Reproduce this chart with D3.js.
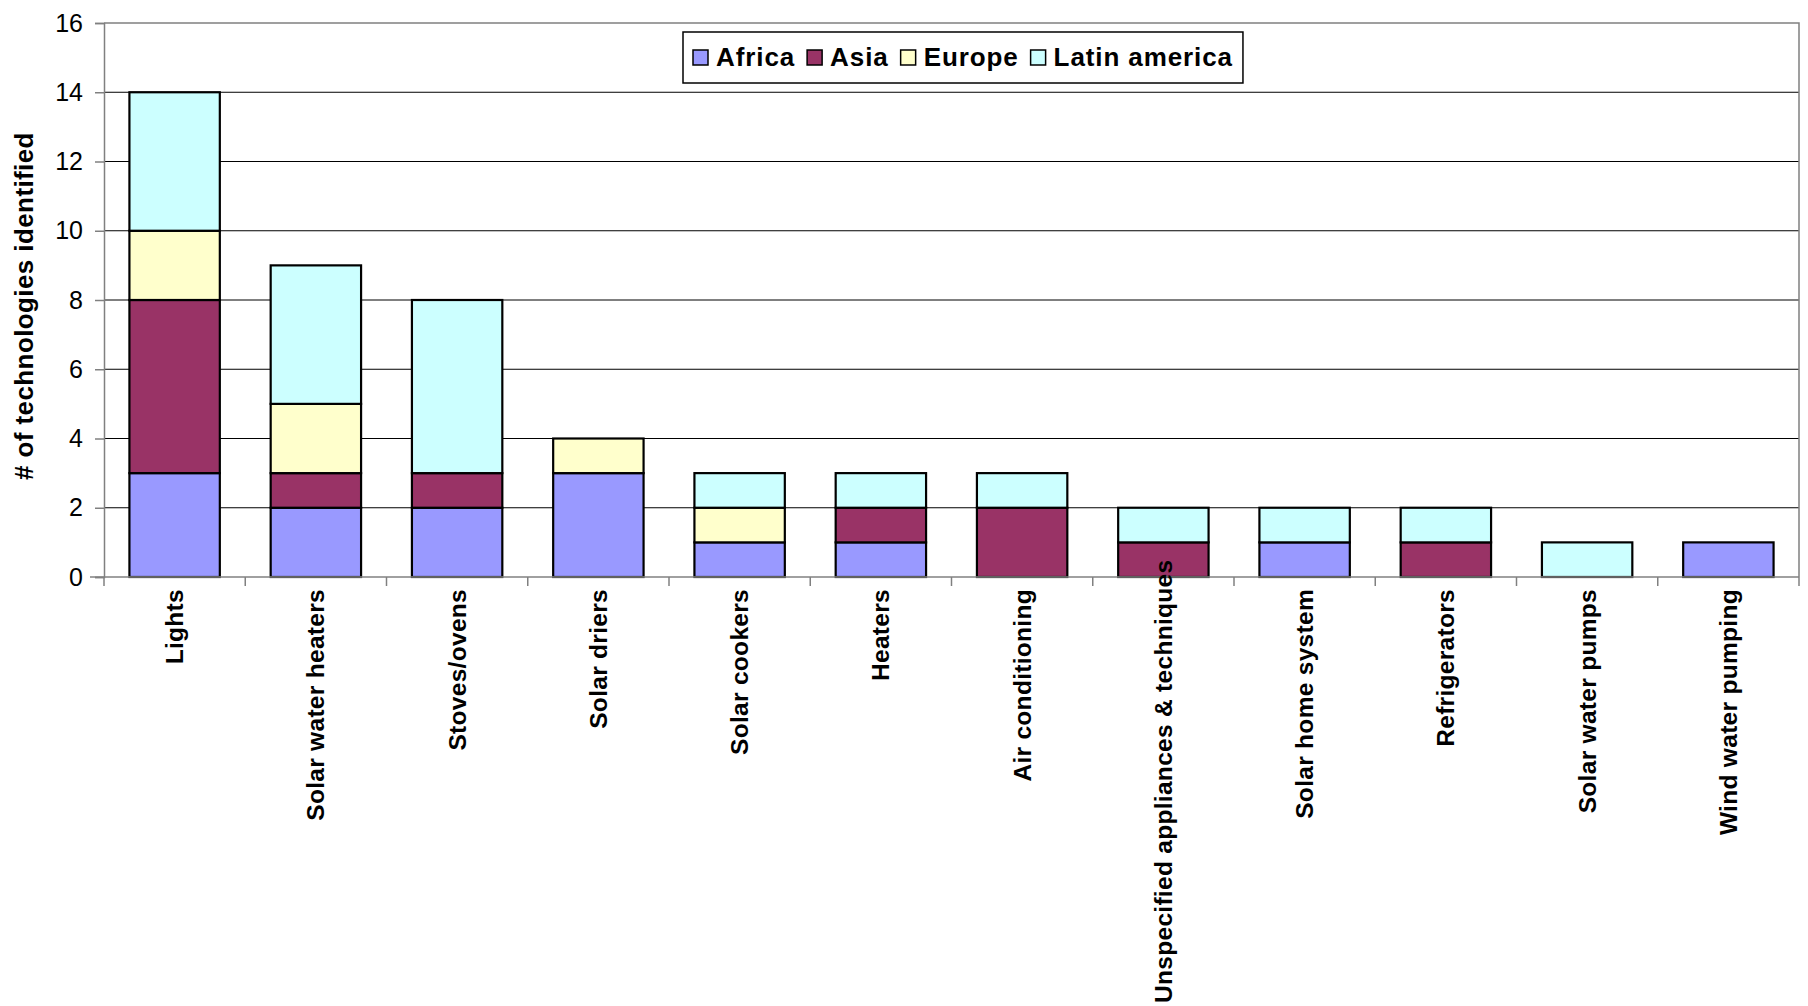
<!DOCTYPE html>
<html>
<head>
<meta charset="utf-8">
<script src="https://cdn.jsdelivr.net/npm/d3@7"></script>
<style>
  body { margin: 0; background: #fff; }
  text { font-family: "Liberation Sans", Arial, sans-serif; }
</style>
</head>
<body>
<script>
var categories = ["Lights", "Solar water heaters", "Stoves/ovens", "Solar driers", "Solar cookers",
    "Heaters", "Air conditioning", "Unspecified appliances & techniques", "Solar home system",
    "Refrigerators", "Solar water pumps", "Wind water pumping"];
var seriesNames = ["Africa", "Asia", "Europe", "Latin america"];
var africa = [3, 2, 2, 3, 1, 1, 0, 0, 1, 0, 0, 1];
var asia   = [5, 1, 1, 0, 0, 1, 2, 1, 0, 1, 0, 0];
var europe = [2, 2, 0, 1, 1, 0, 0, 0, 0, 0, 0, 0];
var latin  = [4, 4, 5, 0, 1, 1, 1, 1, 1, 1, 1, 0];
var yTicks = [0, 2, 4, 6, 8, 10, 12, 14, 16];
var colors = ["#9999ff", "#993366", "#ffffcc", "#ccffff"];

var W = 1808, H = 1006;
var margin = { top: 23, right: 9, bottom: 429, left: 104 };
var width = W - margin.left - margin.right;
var height = H - margin.top - margin.bottom;

var svg = d3.select("body").append("svg")
    .attr("width", W)
    .attr("height", H);

var g = svg.append("g")
    .attr("transform", `translate(${margin.left}, ${margin.top})`);

var table = categories.map((c, i) => ({
    cat: c, "Africa": africa[i], "Asia": asia[i], "Europe": europe[i], "Latin america": latin[i]
}));
var stacked = d3.stack().keys(seriesNames)(table);

var x = d3.scaleBand()
    .domain(categories)
    .range([0, width])
    .paddingInner(0.36)
    .paddingOuter(0.18);

var y = d3.scaleLinear()
    .domain([0, 16])
    .range([height, 0]);

// gridlines
g.selectAll(".grid")
    .data(yTicks.slice(1, -1))
    .enter()
    .append("line")
    .attr("x1", 0).attr("x2", width)
    .attr("y1", (d) => y(d)).attr("y2", (d) => y(d))
    .attr("stroke", "#000")
    .attr("stroke-width", 1);

// plot border (top, right)
g.append("path")
    .attr("d", `M0,0H${width}V${height}`)
    .attr("fill", "none")
    .attr("stroke", "#808080")
    .attr("stroke-width", 1.5);

// bars
g.selectAll(".series")
    .data(stacked)
    .enter()
    .append("g")
    .attr("fill", (d, i) => colors[i])
    .selectAll("rect")
    .data((d) => d.filter((s) => s[1] > s[0]))
    .enter()
    .append("rect")
    .attr("x", (d) => x(d.data.cat))
    .attr("y", (d) => y(d[1]))
    .attr("width", x.bandwidth())
    .attr("height", (d) => y(d[0]) - y(d[1]))
    .attr("stroke", "#000")
    .attr("stroke-width", 2.2);

// y axis
var yAxis = g.append("g")
    .call(d3.axisLeft(y).tickValues(yTicks).tickSize(9).tickPadding(12));
yAxis.select(".domain").attr("stroke", "#808080").attr("stroke-width", 1.5);
yAxis.selectAll(".tick line").attr("stroke", "#808080").attr("stroke-width", 1.5);
yAxis.selectAll(".tick text").attr("font-size", "25px").attr("fill", "#000")
    .attr("font-family", "Liberation Sans, Arial, sans-serif");

// x axis line and boundary ticks
g.append("line")
    .attr("x1", -14).attr("x2", width)
    .attr("y1", height).attr("y2", height)
    .attr("stroke", "#808080").attr("stroke-width", 1.5);
var step = x.step();
g.selectAll(".xtick")
    .data(d3.range(categories.length + 1))
    .enter()
    .append("line")
    .attr("x1", (d) => d * step).attr("x2", (d) => d * step)
    .attr("y1", height).attr("y2", height + 9)
    .attr("stroke", "#808080").attr("stroke-width", 1.5);

// x labels, rotated
var labelTop = height + 12;
var maxBottom = H - margin.top - 3;
g.selectAll(".xlabel")
    .data(categories)
    .enter()
    .append("text")
    .text((d) => d)
    .attr("font-size", "24.5px")
    .attr("font-weight", "bold")
    .attr("letter-spacing", "0.3px")
    .attr("text-anchor", "end")
    .attr("dy", "0.35em")
    .each(function (d) {
        var len = this.getComputedTextLength();
        var top = Math.min(labelTop, maxBottom - len);
        var cx = x(d) + x.bandwidth() / 2;
        d3.select(this).attr("transform", `translate(${cx}, ${top}) rotate(-90)`);
    });

// y title
svg.append("text")
    .text("# of technologies identified")
    .attr("font-size", "26px")
    .attr("font-weight", "bold")
    .attr("letter-spacing", "0.4px")
    .attr("text-anchor", "middle")
    .attr("transform", `translate(33, ${margin.top + height / 2 + 6}) rotate(-90)`);

// legend
var legend = svg.append("g").attr("transform", "translate(683, 32)");
var legBox = legend.append("rect")
    .attr("height", 51)
    .attr("fill", "#fff")
    .attr("stroke", "#000")
    .attr("stroke-width", 1.5);
var lx = 10;
seriesNames.forEach((name, i) => {
    legend.append("rect")
        .attr("x", lx).attr("y", 18)
        .attr("width", 15).attr("height", 15)
        .attr("fill", colors[i])
        .attr("stroke", "#000").attr("stroke-width", 1.5);
    var t = legend.append("text")
        .text(name)
        .attr("x", lx + 23).attr("y", 34)
        .attr("font-size", "26px")
        .attr("font-weight", "bold")
        .attr("letter-spacing", "0.9px");
    lx += 23 + t.node().getComputedTextLength() + 12;
});
legBox.attr("width", lx - 2);
</script>
</body>
</html>
